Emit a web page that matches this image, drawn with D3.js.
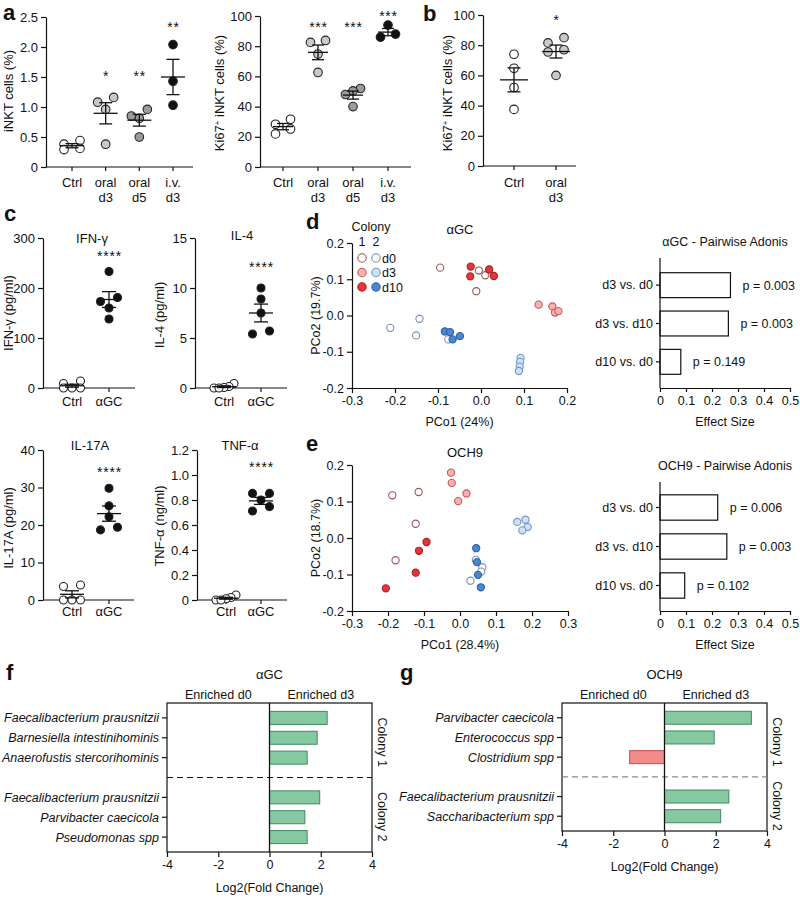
<!DOCTYPE html>
<html><head><meta charset="utf-8">
<script src="https://cdn.jsdelivr.net/npm/d3@7"></script>
<style>
body{margin:0;background:#fff;}
svg{font-family:"Liberation Sans",Arial,Helvetica,sans-serif;}
</style></head><body>
<svg id="fig" width="800" height="898"></svg>
<script>
// ================= DATA =================
// Panel a (iNKT cells %, Ki67+ iNKT %)
const aCategories = [["Ctrl"],["oral","d3"],["oral","d5"],["i.v.","d3"]];
const aINKT = [[0.38,0.44,0.31,0.29],[1.16,1.08,0.96,0.38],[0.96,0.85,0.81,0.50],[2.04,1.43,1.03]];
const aINKTStars = ["","*","**","**"];
const aINKTTicks = [0,0.5,1,1.5,2,2.5];
const aINKTTickLabels = ["0","0.5","1.0","1.5","2.0","2.5"];
const aKi67 = [[28.3,31.6,21.9,25.2],[82.5,83.8,74.8,62.6],[52,50.4,48,40],[94,88,86]];
const aKi67Stars = ["","***","***","***"];
const pctTicks = [0,20,40,60,80,100];
const pctTickLabels = ["0","20","40","60","80","100"];
// Panel b
const bCategories = [["Ctrl"],["oral","d3"]];
const bKi67 = [[74,64.7,52,37.5],[85,81.5,77,75.5,60]];
const bStars = ["","*"];
// Panel c
const cCategories = ["Ctrl","αGC"];
const cIFNg = [[14,9,0,0,0],[233,181,173,160,138]];
const cIL4 = [[0.45,0.15,0.05,0,0],[10.0,8.9,7.5,5.7,5.4]];
const cIL17A = [[4.0,3.6,0,0,0],[29.8,25.1,22.2,19.4,18.7]];
const cTNFa = [[0.04,0.02,0.01,0,0],[0.853,0.853,0.80,0.747,0.712]];
const cStars = ["","****"];
const ifnTicks = [0,100,200,300];
const il4Ticks = [0,5,10,15];
const il17Ticks = [0,10,20,30,40];
const tnfTicks = [0,0.2,0.4,0.6,0.8,1.0,1.2];
const tnfTickLabels = ["0","0.2","0.4","0.6","0.8","1.0","1.2"];
// Panel d (alphaGC PCoA) [PCo1, PCo2]
const agcC1d0 = [[-0.095,0.132],[-0.005,0.124],[0.010,0.111],[-0.011,0.067]];
const agcC1d3 = [[0.134,0.030],[0.166,0.025],[0.172,0.008],[0.180,0.012]];
const agcC1d10 = [[-0.024,0.135],[-0.025,0.108],[0.019,0.127],[0.030,0.109]];
const agcC2d0 = [[-0.211,-0.034],[-0.143,-0.009],[-0.151,-0.055],[-0.076,-0.066]];
const agcC2d3 = [[0.092,-0.117],[0.091,-0.128],[0.090,-0.141],[0.088,-0.153]];
const agcC2d10 = [[-0.084,-0.044],[-0.072,-0.046],[-0.066,-0.066],[-0.049,-0.057]];
// Panel e (OCH9 PCoA)
const ochC1d0 = [[-0.188,0.117],[-0.115,0.126],[-0.123,0.039],[-0.179,-0.061]];
const ochC1d3 = [[-0.025,0.179],[-0.023,0.151],[-0.005,0.101],[0.018,0.122]];
const ochC1d10 = [[-0.093,-0.011],[-0.114,-0.035],[-0.123,-0.095],[-0.206,-0.138]];
const ochC2d0 = [[0.044,-0.060],[0.062,-0.080],[0.059,-0.092],[0.029,-0.117]];
const ochC2d3 = [[0.159,0.044],[0.182,0.050],[0.188,0.030],[0.173,0.021]];
const ochC2d10 = [[0.045,-0.028],[0.047,-0.066],[0.050,-0.101],[0.058,-0.135]];
const pcoXTicksD = [-0.3,-0.2,-0.1,0,0.1,0.2];
const pcoXTicksE = [-0.3,-0.2,-0.1,0,0.1,0.2,0.3];
const pcoYTicks = [-0.2,-0.1,0,0.1,0.2];
const timepoints = ["d0","d3","d10"];
// Pairwise Adonis
const adonisComparisons = ["d3 vs. d0","d3 vs. d10","d10 vs. d0"];
const agcEffect = [0.271,0.263,0.080];
const agcP = ["0.003","0.003","0.149"];
const ochEffect = [0.222,0.257,0.095];
const ochP = ["0.006","0.003","0.102"];
const effectTicks = [0,0.1,0.2,0.3,0.4,0.5];
const effectTickLabels = ["0","0.1","0.2","0.3","0.4","0.5"];
// Panels f, g (log2 fold change)
const fTaxa = ["Faecalibacterium prausnitzii","Barnesiella intestinihominis","Anaerofustis stercorihominis","Faecalibacterium prausnitzii","Parvibacter caecicola","Pseudomonas spp"];
const fColony = [1,1,1,2,2,2];
const fLog2FC = [2.25,1.86,1.47,1.96,1.38,1.47];
const gTaxa = ["Parvibacter caecicola","Enterococcus spp","Clostridium spp","Faecalibacterium prausnitzii","Saccharibacterium spp"];
const gColony = [1,1,1,2,2];
const gLog2FC = [3.39,1.94,-1.36,2.51,2.19];
const fcTicks = [-4,-2,0,2,4];
const fcTickLabels = ["-4","-2","0","2","4"];

// ================= DRAWING =================
const svg = d3.select("#fig");
const INK = "#111";

function styleAxis(sel, fs){
  sel.attr("font-family", null).attr("font-size", fs);
  sel.selectAll("path,line").attr("stroke", INK).attr("stroke-width", 1.2);
  sel.selectAll("text").attr("fill", INK);
}
function text(x, y, s, o = {}){
  const t = svg.append("text").attr("x", x).attr("y", y)
    .attr("font-size", o.fs || 12.5).attr("fill", o.fill || INK)
    .attr("text-anchor", o.anchor || "middle").text(s);
  if (o.weight) t.attr("font-weight", o.weight);
  if (o.italic) t.attr("font-style", "italic");
  if (o.rotate) t.attr("transform", `rotate(${o.rotate},${x},${y})`);
  if (o.ls) t.attr("letter-spacing", o.ls);
  return t;
}
function panelLetter(x, y, s){ text(x, y, s, {fs: 22, weight: "bold", anchor: "start"}); }

function dodge(vals, ys, r, step, maxSpread){
  const idx = vals.map((v,i)=>i).sort((a,b)=>vals[b]-vals[a]);
  const rows = []; let cur = null;
  idx.forEach(i => {
    if (cur && Math.abs(ys(vals[i]) - ys(vals[cur[0]])) < 1.6*r) cur.push(i);
    else { cur = [i]; rows.push(cur); }
  });
  const off = new Array(vals.length).fill(0);
  rows.forEach(row => {
    const n = row.length;
    const asc = row.slice().sort((a,b)=>vals[a]-vals[b]);
    if (n === 2) { off[asc[0]] = -step; off[asc[1]] = step; return; }
    const s = n > 3 ? Math.min(step, maxSpread/(n-1)) : step;
    asc.forEach((i,k) => { off[i] = (k-(n-1)/2)*s; });
  });
  return off;
}

function dotPanel(o){
  const g = svg.append("g");
  const y = d3.scaleLinear().domain(o.domain).range(o.yRange);
  const x = d3.scalePoint().domain(d3.range(o.groups.length)).range(o.xRange);
  const ya = g.append("g").attr("transform", `translate(${o.axisX},0)`)
    .call(d3.axisLeft(y).tickValues(o.ticks).tickFormat((d,i)=>o.tickLabels[i])
      .tickSize(5).tickSizeOuter(0).tickPadding(3));
  styleAxis(ya, 13);
  g.append("line").attr("x1", o.axisX).attr("x2", o.axisEnd)
    .attr("y1", o.yRange[0]).attr("y2", o.yRange[0]).attr("stroke", INK).attr("stroke-width", 1.2);
  o.groups.forEach((vals, i) => {
    const cx = x(i);
    g.append("line").attr("x1", cx).attr("x2", cx).attr("y1", o.yRange[0]).attr("y2", o.yRange[0]+4)
      .attr("stroke", INK).attr("stroke-width", 1.2);
    const lab = Array.isArray(o.cats[i]) ? o.cats[i] : [o.cats[i]];
    lab.forEach((t,k) => g.append("text").attr("x", cx).attr("y", o.labelY + k*14.5)
      .attr("text-anchor","middle").attr("font-size", 13).attr("fill", INK).text(t));
    const offs = dodge(vals, y, o.r, o.step, 20);
    g.selectAll(null).data(vals).enter().append("circle")
      .attr("cx", (d,k) => cx + offs[k]).attr("cy", d => y(d)).attr("r", o.r)
      .attr("fill", o.fills[i]).attr("stroke", "#222").attr("stroke-width", 1.1);
    const m = d3.mean(vals), sem = d3.deviation(vals)/Math.sqrt(vals.length);
    const ln = (x1,x2,y1,y2) => g.append("line").attr("x1",x1).attr("x2",x2).attr("y1",y1).attr("y2",y2)
      .attr("stroke", INK).attr("stroke-width", 1.3);
    ln(cx - o.meanHalf, cx + o.meanHalf, y(m), y(m));
    ln(cx, cx, y(m - sem), y(m + sem));
    ln(cx - o.capHalf, cx + o.capHalf, y(m + sem), y(m + sem));
    ln(cx - o.capHalf, cx + o.capHalf, y(m - sem), y(m - sem));
    if (o.stars[i]) g.append("text").attr("x", cx + 0.5).attr("y", o.starY[i] + 8)
      .attr("text-anchor","middle").attr("font-size", 14).attr("letter-spacing", 0.8)
      .attr("fill", INK).text(o.stars[i]);
  });
  if (o.title) text(o.title[1], o.title[2], o.title[0], {fs: 13});
  if (o.ylabel) {
    const t = text(o.ylabel[1], o.ylabel[2], "", {fs: 13, rotate: -90});
    o.ylabel[0].forEach(p => { const ts = t.append("tspan").text(p.t); if (p.sup) ts.attr("font-size", 8).attr("baseline-shift", "super"); });
  }
}

// ---- Panel a ----
panelLetter(3, 20, "a");
dotPanel({groups: aINKT, cats: aCategories, domain: [0,2.5], yRange: [167,17], ticks: aINKTTicks, tickLabels: aINKTTickLabels,
  axisX: 46, axisEnd: 193, xRange: [72,173], labelY: 187, r: 4.3, step: 8, meanHalf: 12, capHalf: 6.5,
  fills: ["#fff","#c9c9c9","#9b9b9b","#111"], stars: aINKTStars, starY: [0,73,73,24],
  ylabel: [[{t:"iNKT cells (%)"}], 13, 91]});
dotPanel({groups: aKi67, cats: aCategories, domain: [0,100], yRange: [167,16], ticks: pctTicks, tickLabels: pctTickLabels,
  axisX: 260, axisEnd: 411, xRange: [283,388], labelY: 187, r: 4.3, step: 7.5, meanHalf: 10, capHalf: 6,
  fills: ["#fff","#c9c9c9","#9b9b9b","#111"], stars: aKi67Stars, starY: [0,24,24,13],
  ylabel: [[{t:"Ki67"},{t:"+",sup:true},{t:" iNKT cells (%)"}], 224, 93]});
// ---- Panel b ----
panelLetter(423, 21, "b");
dotPanel({groups: bKi67, cats: bCategories, domain: [0,100], yRange: [166,15], ticks: pctTicks, tickLabels: pctTickLabels,
  axisX: 483, axisEnd: 576, xRange: [514,556], labelY: 187, r: 4.3, step: 8, meanHalf: 14, capHalf: 6.5,
  fills: ["#fff","#c9c9c9"], stars: bStars, starY: [0,17],
  ylabel: [[{t:"Ki67"},{t:"+",sup:true},{t:" iNKT cells (%)"}], 452, 93]});
// ---- Panel c ----
panelLetter(4, 221, "c");
const cFills = ["#fff","#111"];
dotPanel({groups: cIFNg, cats: cCategories, domain: [0,300], yRange: [388,238], ticks: ifnTicks, tickLabels: ifnTicks.map(String),
  axisX: 43, axisEnd: 135, xRange: [72,109], labelY: 406, r: 4, step: 8.5, meanHalf: 12, capHalf: 7,
  fills: cFills, stars: cStars, starY: [0,253], title: ["IFN-γ", 92, 243], ylabel: [[{t:"IFN-γ (pg/ml)"}], 13, 313]});
dotPanel({groups: cIL4, cats: cCategories, domain: [0,15], yRange: [388,238], ticks: il4Ticks, tickLabels: il4Ticks.map(String),
  axisX: 195, axisEnd: 287, xRange: [224,261], labelY: 406, r: 4, step: 8.5, meanHalf: 12, capHalf: 7,
  fills: cFills, stars: cStars, starY: [0,264], title: ["IL-4", 242, 240], ylabel: [[{t:"IL-4 (pg/ml)"}], 164, 315]});
dotPanel({groups: cIL17A, cats: cCategories, domain: [0,40], yRange: [600,450], ticks: il17Ticks, tickLabels: il17Ticks.map(String),
  axisX: 43, axisEnd: 134, xRange: [72,109], labelY: 616, r: 4, step: 8.5, meanHalf: 12, capHalf: 7,
  fills: cFills, stars: cStars, starY: [0,469], title: ["IL-17A", 90, 450], ylabel: [[{t:"IL-17A (pg/ml)"}], 13, 528]});
dotPanel({groups: cTNFa, cats: cCategories, domain: [0,1.2], yRange: [600,450], ticks: tnfTicks, tickLabels: tnfTickLabels,
  axisX: 197, axisEnd: 287, xRange: [226,261], labelY: 616, r: 4, step: 8.5, meanHalf: 12, capHalf: 7,
  fills: cFills, stars: cStars, starY: [0,464], title: ["TNF-α", 240, 450], ylabel: [[{t:"TNF-α (ng/ml)"}], 164, 526]});

// ---- PCoA panels ----
const styleC1 = [{fill:"#ffffff", stroke:"#9c5656"}, {fill:"#f3b3b3", stroke:"#cf5454"}, {fill:"#e5343a", stroke:"#a72326"}];
const styleC2 = [{fill:"#ffffff", stroke:"#7c8db2"}, {fill:"#d0e1f5", stroke:"#6f97cc"}, {fill:"#4a87cc", stroke:"#2d62a7"}];

function pcoaPanel(o){
  const g = svg.append("g");
  const x = d3.scaleLinear().domain(o.xDomain).range(o.xRange);
  const y = d3.scaleLinear().domain([-0.2,0.2]).range(o.yRange);
  const fmt = d => d.toFixed(1);
  const xa = g.append("g").attr("transform", `translate(0,${o.yRange[0]})`)
    .call(d3.axisBottom(x).tickValues(o.xTicks).tickFormat(fmt).tickSize(5).tickSizeOuter(0).tickPadding(3));
  styleAxis(xa, 12.5);
  const ya = g.append("g").attr("transform", `translate(${o.xRange[0]},0)`)
    .call(d3.axisLeft(y).tickValues(pcoYTicks).tickFormat(fmt).tickSize(5).tickSizeOuter(0).tickPadding(3));
  styleAxis(ya, 12.5);
  o.series.forEach(s => {
    g.selectAll(null).data(s.data).enter().append("circle")
      .attr("cx", d => x(d[0])).attr("cy", d => y(d[1])).attr("r", 3.6)
      .attr("fill", s.style.fill).attr("stroke", s.style.stroke).attr("stroke-width", 1.1);
  });
  text(o.title[1], o.title[2], o.title[0], {fs: 13});
  text((o.xRange[0]+o.xRange[1])/2, o.yRange[0] + 38, o.xlabel, {fs: 12.5});
  text(320, (o.yRange[0]+o.yRange[1])/2, o.ylabel, {fs: 12.5, rotate: -90});
}
pcoaPanel({xDomain: [-0.3,0.2], xRange: [352,567], yRange: [388,243], xTicks: pcoXTicksD,
  series: [
    {data: agcC1d0, style: styleC1[0]}, {data: agcC2d0, style: styleC2[0]},
    {data: agcC1d3, style: styleC1[1]}, {data: agcC2d3, style: styleC2[1]},
    {data: agcC1d10, style: styleC1[2]}, {data: agcC2d10, style: styleC2[2]}],
  title: ["αGC", 460, 234], xlabel: "PCo1 (24%)", ylabel: "PCo2 (19.7%)"});
pcoaPanel({xDomain: [-0.3,0.3], xRange: [352,568], yRange: [611,465], xTicks: pcoXTicksE,
  series: [
    {data: ochC1d0, style: styleC1[0]}, {data: ochC2d0, style: styleC2[0]},
    {data: ochC1d3, style: styleC1[1]}, {data: ochC2d3, style: styleC2[1]},
    {data: ochC1d10, style: styleC1[2]}, {data: ochC2d10, style: styleC2[2]}],
  title: ["OCH9", 465, 457], xlabel: "PCo1 (28.4%)", ylabel: "PCo2 (18.7%)"});
panelLetter(306, 229, "d");
panelLetter(306, 451, "e");
// legend
text(371, 231, "Colony", {fs: 12.5});
text(362, 246, "1", {fs: 12.5});
text(376, 246, "2", {fs: 12.5});
timepoints.forEach((tp, i) => {
  const yy = 258 + i*14.5;
  svg.append("circle").attr("cx", 362).attr("cy", yy).attr("r", 4.2)
    .attr("fill", styleC1[i].fill).attr("stroke", styleC1[i].stroke).attr("stroke-width", 1.1);
  svg.append("circle").attr("cx", 376).attr("cy", yy).attr("r", 4.2)
    .attr("fill", styleC2[i].fill).attr("stroke", styleC2[i].stroke).attr("stroke-width", 1.1);
  text(382, yy + 4.5, tp, {fs: 12.5, anchor: "start"});
});

// ---- Adonis panels ----
function adonisPanel(o){
  const g = svg.append("g");
  const x = d3.scaleLinear().domain([0,0.5]).range([660,790]);
  const y = d3.scaleBand().domain(adonisComparisons).range(o.band).paddingInner(0.35).paddingOuter(0.175);
  g.selectAll(null).data(o.values).enter().append("rect")
    .attr("x", x(0)).attr("y", (d,i) => y(adonisComparisons[i]))
    .attr("width", d => x(d) - x(0)).attr("height", y.bandwidth())
    .attr("fill", "#fff").attr("stroke", INK).attr("stroke-width", 1.2);
  const xa = g.append("g").attr("transform", `translate(0,${o.bottom})`)
    .call(d3.axisBottom(x).tickValues(effectTicks).tickFormat((d,i)=>effectTickLabels[i]).tickSize(4).tickSizeOuter(0).tickPadding(4));
  styleAxis(xa, 12.5);
  const ya = g.append("g").attr("transform", `translate(660,0)`)
    .call(d3.axisLeft(y).tickSize(4).tickSizeOuter(0).tickPadding(3));
  styleAxis(ya, 12.5);
  ya.select(".domain").attr("d", `M-0,${o.top}V${o.bottom}`);
  o.values.forEach((v,i) => text(x(v) + 12, y(adonisComparisons[i]) + y.bandwidth()/2 + 4.5, "p = " + o.p[i], {fs: 12.5, anchor: "start"}));
  text(725, o.top - 12, o.title, {fs: 12.5});
  text(725, o.bottom + 38, "Effect Size", {fs: 12.5});
}
adonisPanel({values: agcEffect, p: agcP, band: [266,381], top: 258, bottom: 388, title: "αGC - Pairwise Adonis"});
adonisPanel({values: ochEffect, p: ochP, band: [488,605], top: 482, bottom: 611, title: "OCH9 - Pairwise Adonis"});

// ---- Fold-change panels ----
function fcPanel(o){
  const g = svg.append("g");
  const x = d3.scaleLinear().domain([-4,4]).range(o.xRange);
  const slots = o.taxa.map((t,i) => i + (o.colony[i] === 2 ? 1 : 0));
  const nSlots = d3.max(slots) + 1;
  const y = d3.scaleLinear().domain([-0.75, nSlots - 0.25]).range([o.top, o.bottom]);
  const gap = o.colony.indexOf(2);
  const yDash = y(gap);
  g.append("rect").attr("x", o.xRange[0]).attr("y", o.top).attr("width", o.xRange[1]-o.xRange[0])
    .attr("height", o.bottom - o.top).attr("fill", "none").attr("stroke", INK).attr("stroke-width", 1.2);
  g.append("line").attr("x1", o.xRange[0]).attr("x2", o.xRange[1]).attr("y1", yDash).attr("y2", yDash)
    .attr("stroke", o.dashColor).attr("stroke-width", 1.2).attr("stroke-dasharray", "6,4");
  g.selectAll(null).data(o.values).enter().append("rect")
    .attr("x", d => x(Math.min(0,d))).attr("y", (d,i) => y(slots[i]) - 6.5)
    .attr("width", d => Math.abs(x(d) - x(0))).attr("height", 13)
    .attr("fill", d => d >= 0 ? "#86c9a0" : "#f28c8a")
    .attr("stroke", d => d >= 0 ? "#3f8a5e" : "#c54c4a").attr("stroke-width", 1);
  g.append("line").attr("x1", x(0)).attr("x2", x(0)).attr("y1", o.top).attr("y2", o.bottom)
    .attr("stroke", INK).attr("stroke-width", 1.3);
  const xa = g.append("g").attr("transform", `translate(0,${o.bottom})`)
    .call(d3.axisBottom(x).tickValues(fcTicks).tickFormat((d,i)=>fcTickLabels[i]).tickSize(5).tickSizeOuter(0).tickPadding(3));
  styleAxis(xa, 12.5);
  xa.select(".domain").remove();
  o.taxa.forEach((t,i) => {
    const yy = y(slots[i]);
    g.append("line").attr("x1", o.xRange[0]-5).attr("x2", o.xRange[0]).attr("y1", yy).attr("y2", yy)
      .attr("stroke", INK).attr("stroke-width", 1.2);
    text(o.xRange[0] - 8, yy + 4.5, t, {fs: 12.5, anchor: "end", italic: true});
  });
  const xr = o.xRange[1] + 5.5;
  text(xr, (o.top + yDash)/2 + 2, "Colony 1", {fs: 12.5, rotate: 90});
  text(xr, (yDash + o.bottom)/2 + 2, "Colony 2", {fs: 12.5, rotate: 90});
  text(x(0), 679, o.title, {fs: 13});
  text((x(-4)+x(0))/2, 699, "Enriched d0", {fs: 12.5});
  text((x(0)+x(4))/2, 699, "Enriched d3", {fs: 12.5});
  text(x(0), o.bottom + 40, "Log2(Fold Change)", {fs: 12.5});
}
fcPanel({taxa: fTaxa, colony: fColony, values: fLog2FC, xRange: [167,372], top: 703, bottom: 852, title: "αGC", dashColor: "#111"});
fcPanel({taxa: gTaxa, colony: gColony, values: gLog2FC, xRange: [562,767], top: 703, bottom: 831, title: "OCH9", dashColor: "#8a8a8a"});
panelLetter(6, 680, "f");
panelLetter(400, 680, "g");
</script>
</body></html>
